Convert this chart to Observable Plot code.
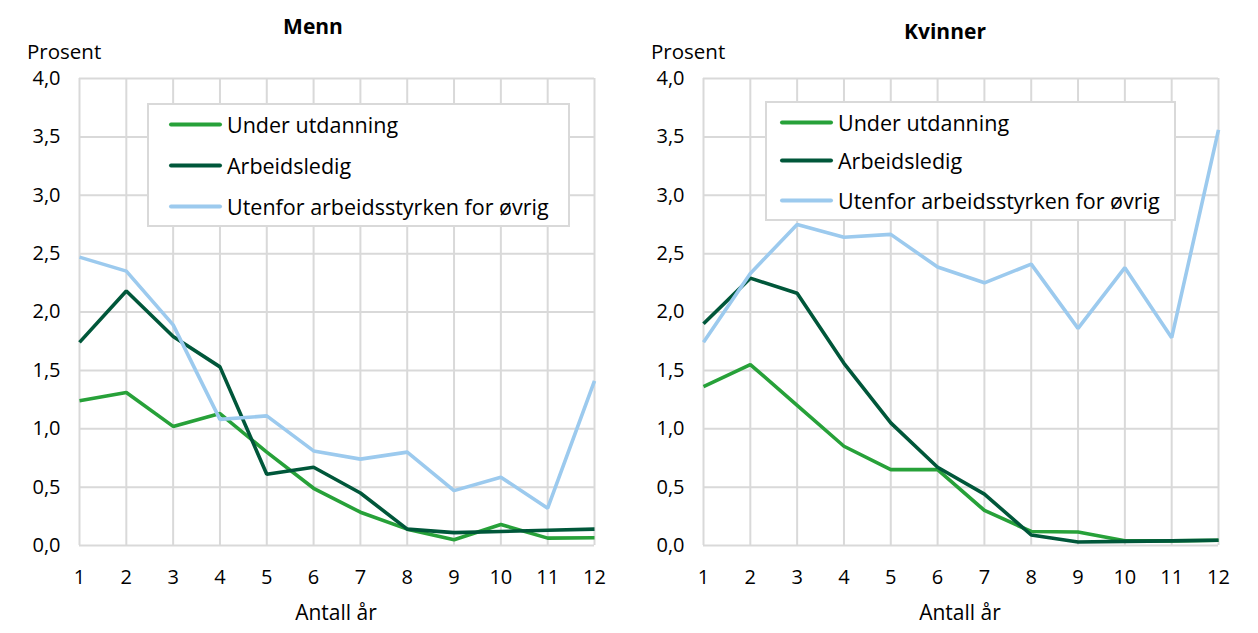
<!DOCTYPE html>
<html>
<head>
<meta charset="utf-8">
<script src="https://cdn.jsdelivr.net/npm/d3@7"></script>
<script src="https://cdn.jsdelivr.net/npm/@observablehq/plot@0.6"></script>
<style>
  html, body { margin: 0; padding: 0; background: #fff; overflow: hidden; }
  body { width: 1258px; height: 633px; position: relative; font-family: "Open Sans", sans-serif; color: #000; }
  .panel { position: absolute; top: 0; width: 620px; height: 633px; }
  .panel svg { position: absolute; left: 0; top: 0; }
  .title { position: absolute; font-weight: bold; font-size: 21px; transform: translate(-50%, -50%); white-space: nowrap; }
  .lbl { position: absolute; font-size: 20.5px; white-space: nowrap; }
  .xlbl { position: absolute; font-size: 21px; transform: translate(-50%, -50%); white-space: nowrap; }
  .legend { position: absolute; background: #fff; border: 2px solid #d9d9d9; box-sizing: border-box; }
  .legend .row { position: absolute; display: flex; align-items: center; font-size: 21.5px; white-space: nowrap; transform: translateY(-50%); }
  .legend .sw { width: 53px; height: 4px; border-radius: 2px; margin-right: 5px; }
</style>
</head>
<body>
<script>
const years = [1, 2, 3, 4, 5, 6, 7, 8, 9, 10, 11, 12];
const seriesNames = ["Under utdanning", "Arbeidsledig", "Utenfor arbeidsstyrken for øvrig"];
const seriesColors = ["#27a139", "#00573a", "#9ccaee"];
const yTicks = [0, 0.5, 1, 1.5, 2, 2.5, 3, 3.5, 4];

// Menn
const mennUnderUtdanning = [1.24, 1.31, 1.02, 1.13, 0.80, 0.49, 0.285, 0.14, 0.05, 0.18, 0.063, 0.066];
const mennArbeidsledig   = [1.74, 2.18, 1.79, 1.53, 0.61, 0.67, 0.45, 0.14, 0.11, 0.12, 0.13, 0.14];
const mennUtenfor        = [2.47, 2.35, 1.89, 1.08, 1.11, 0.81, 0.74, 0.80, 0.47, 0.585, 0.32, 1.41];

// Kvinner
const kvinnerUnderUtdanning = [1.36, 1.55, 1.20, 0.85, 0.65, 0.65, 0.30, 0.12, 0.115, 0.04, 0.04, 0.045];
const kvinnerArbeidsledig   = [1.90, 2.29, 2.16, 1.56, 1.05, 0.67, 0.44, 0.09, 0.03, 0.035, 0.04, 0.045];
const kvinnerUtenfor        = [1.74, 2.33, 2.75, 2.64, 2.665, 2.385, 2.25, 2.41, 1.86, 2.38, 1.78, 3.56];

function toRows(arrs) {
  const rows = [];
  arrs.forEach((arr, si) => arr.forEach((v, i) => rows.push({year: years[i], value: v, series: seriesNames[si]})));
  return rows;
}

const fmt = v => d3.format(".1f")(v).replace(".", ",");

function makePanel(left, title, titleX, titleY, arrs, legend) {
  const div = document.createElement("div");
  div.className = "panel";
  div.style.left = left + "px";
  document.body.appendChild(div);

  const data = toRows(arrs);
  const chart = Plot.plot({
    width: 620,
    height: 633,
    marginLeft: 79,
    marginRight: 26,
    marginTop: 78,
    marginBottom: 88,
    style: {fontFamily: "Open Sans", fontSize: "20px", color: "#000", background: "transparent", overflow: "visible"},
    x: {domain: [1, 12], ticks: years, tickFormat: d => String(d), tickSize: 0, tickPadding: 24, label: null},
    y: {domain: [0, 4], ticks: yTicks, tickFormat: fmt, tickSize: 0, tickPadding: 19, label: null},
    color: {domain: seriesNames, range: seriesColors},
    marks: [
      Plot.gridX(years, {stroke: "#d9d9d9", strokeOpacity: 1, strokeWidth: 2}),
      Plot.gridY(yTicks, {stroke: "#d9d9d9", strokeOpacity: 1, strokeWidth: 2}),
      Plot.line(data, {x: "year", y: "value", z: "series", stroke: "series", strokeWidth: 3.6, strokeLinejoin: "miter", strokeLinecap: "butt"})
    ]
  });
  div.appendChild(chart);

  const t = document.createElement("div");
  t.className = "title"; t.textContent = title;
  t.style.left = titleX + "px"; t.style.top = titleY + "px";
  div.appendChild(t);

  const p = document.createElement("div");
  p.className = "lbl"; p.textContent = "Prosent";
  p.style.left = "27px"; p.style.top = "37px";
  div.appendChild(p);

  const xl = document.createElement("div");
  xl.className = "xlbl"; xl.textContent = "Antall år";
  xl.style.left = "336px"; xl.style.top = "612px";
  div.appendChild(xl);

  const lg = document.createElement("div");
  lg.className = "legend";
  lg.style.left = legend.x + "px"; lg.style.top = legend.y + "px";
  lg.style.width = legend.w + "px"; lg.style.height = legend.h + "px";
  seriesNames.forEach((name, i) => {
    const r = document.createElement("div");
    r.className = "row";
    r.style.left = legend.sx + "px";
    r.style.top = legend.rows[i] + "px";
    const sw = document.createElement("div");
    sw.className = "sw"; sw.style.background = seriesColors[i];
    const tx = document.createElement("span");
    tx.textContent = name;
    r.appendChild(sw); r.appendChild(tx);
    lg.appendChild(r);
  });
  div.appendChild(lg);
}

makePanel(0, "Menn", 313, 26, [mennUnderUtdanning, mennArbeidsledig, mennUtenfor],
  {x: 147, y: 103, w: 423, h: 124, sx: 20, rows: [19, 60, 101]});
makePanel(624, "Kvinner", 321, 31, [kvinnerUnderUtdanning, kvinnerArbeidsledig, kvinnerUtenfor],
  {x: 141, y: 101, w: 411, h: 120, sx: 13, rows: [19, 57, 97]});
</script>
</body>
</html>
